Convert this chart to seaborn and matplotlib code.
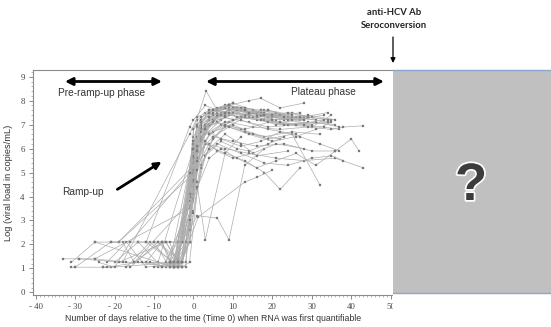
import matplotlib
matplotlib.use("Agg")
import matplotlib.pyplot as plt
import matplotlib.patheffects as pe
from matplotlib.patches import Rectangle, FancyArrowPatch
from matplotlib.lines import Line2D
from matplotlib.ticker import MultipleLocator
import seaborn as sns
import pandas as pd

# ---------------- data ----------------
days = [
    [-33, -29, -25, -1, 0, 3, 7, 11, 16, 22, 28],
    [-31, -30, -23, -21, -4, 0, 4, 8, 13, 18, 24, 31],
    [-31, -25, -19, -1, 1, 5, 9, 14, 20],
    [-25, -17, -9, 0, 2, 6, 10, 15, 21, 27, 33],
    [-23, -22, -14, -4, -1, 1, 5, 9, 15, 21, 29, 36],
    [-21, -19, -0.5, 2, 6, 11, 17, 24],
    [-22, -17, -12, -3, 0, 3, 8, 14, 19, 26, 33, 37],
    [-20, -14, -8, -4, 0, 4, 9, 16, 23, 30, 35],
    [-18, -15, -1, 1, 4, 8, 12, 17, 22],
    [-17, -11, -4, -1, 2, 6, 12, 18, 25, 32],
    [-9, -2, 0, 3, 8, 14, 21, 28, 36, 43],
    [-7, -1, 1, 5, 10, 16, 23, 30, 36, 40, 42],
    [-10, -3, 0, 4, 9, 15, 22, 29, 35, 38, 43],
    [-6, -1, 1, 6, 12, 18, 24, 30, 35, 38],
    [-5, -1, 2, 7, 13, 19, 25, 32],
    [-4, 0, 3, 8, 13, 18, 22, 27],
    [-4, 0, 3, 8, 12],
    [-3, 1, 6, 9, 13, 18],
    [-3, 0, 3.2, 6, 10],
    [-15, -8, -3, 0, 2, 5, 9, 13, 17, 21, 26],
    [-14, -10, -6, -4, 0, 3, 7, 10, 14, 19, 25, 30, 35],
    [-12, -8, -5, -1, 1, 4, 8, 12, 17, 23, 28],
    [-11, -7, -4, -4, 0, 2, 6, 9, 14],
    [-8, -6, -3, -1, 1, 4, 8, 13, 18, 24, 31, 37],
    [-6, -4, -2, 0, 2, 5, 9, 14, 20, 27],
    [-5, -3, -1, 0, 3, 7, 11, 16, 21, 27, 34],
    [-4, -3, -1, 1, 4, 7, 11, 15, 20],
    [-5, -4, 0, 2, 5, 8, 12, 17, 24, 30],
    [-29, -18, -1, 1, 4, 9, 14, 19, 25],
    [-30, -21, -12, -1, 0, 3, 6, 10, 15],
    [-25, -5, 0, 2, 6, 9, 13, 18, 24, 29, 34],
    [-19, -7, -4, 0, 3, 6, 10, 16, 22, 28],
    [-16, -9, -3, -1, 0, 4, 8, 12, 19, 26],
    [-13, -6, -2, 0, 1, 5, 10, 15, 22],
    [-10, -5, -1, 0, 2, 5, 8, 12, 16, 20, 25, 29],
    [-9, -3, -1, 1, 3, 7, 11, 14, 19, 23],
    [-8, -4, -1, 0, 2, 5, 9, 13, 20, 27, 34],
    [-7, -3, 0, 1, 4, 8, 13, 19, 26, 33],
    [-5, -2, 0, 1, 3, 6, 10, 14, 18],
    [-4, -1, 0, 2, 5, 9, 14, 20, 26, 31, 35],
    [-6, -3, 1, 3, 6, 10, 15, 21, 28],
    [-5, -1, 1, 4, 8, 12, 16, 24],
    [-3, 0, 2, 5, 8, 11, 17, 22, 28, 34],
    [-6, -1, 0, 3, 7, 12, 17, 22, 27, 32, 37],
    [-12, -5, 0, 2, 5, 9, 14, 19, 25],
    [-24, -20, -16, -1, 1, 4, 8, 13, 20, 28],
    [-5, 1, 4, 7, 11, 16, 21, 26, 31, 36],
    [-4, 1, 3, 8, 13, 18, 23, 29, 36],
    [-6, 0, 4, 9, 14, 17, 22, 28],
    [-3, 1.2, 13, 16, 20],
]
log_loads = [
    [1.4, 1.4, 1.4, 3.5, 6.8, 7.5, 7.7, 7.6, 7.5, 7.4, 7.3],
    [1.05, 1.05, 1.05, 1.05, 1.25, 6.5, 7.6, 7.8, 7.7, 7.5, 7.3, 7.2],
    [1.25, 2.1, 2.1, 4.8, 7.2, 7.6, 7.5, 7.3, 7.4],
    [1.4, 1.25, 1.25, 6.0, 7.3, 7.7, 7.9, 7.6, 7.3, 7.2, 7.4],
    [1.05, 1.05, 1.25, 1.25, 4.2, 6.9, 7.4, 7.6, 7.3, 7.0, 7.1, 7.0],
    [2.1, 2.1, 5.2, 7.2, 7.6, 7.7, 7.4, 7.3],
    [1.25, 2.1, 1.05, 1.25, 5.5, 7.0, 7.3, 7.1, 6.9, 7.0, 6.9, 6.8],
    [1.25, 2.1, 1.05, 2.1, 6.2, 7.3, 7.4, 7.2, 7.0, 6.9, 7.4],
    [2.1, 1.25, 3.8, 6.5, 7.2, 7.5, 7.3, 7.6, 7.4],
    [1.05, 2.1, 1.05, 4.5, 6.8, 7.1, 6.8, 6.5, 6.7, 6.6],
    [1.05, 1.25, 4.5, 6.2, 6.0, 5.8, 5.6, 5.5, 5.6, 5.2],
    [1.25, 3.6, 5.8, 6.5, 6.3, 6.1, 6.2, 5.9, 5.9, 6.4, 5.9],
    [2.1, 2.1, 6.0, 7.0, 7.1, 6.9, 6.8, 6.9, 6.8, 6.9, 6.95],
    [1.05, 2.8, 5.5, 6.2, 5.8, 5.4, 5.3, 5.6, 5.7, 5.5],
    [1.05, 4.0, 6.5, 7.0, 6.7, 6.4, 6.6, 4.5],
    [1.25, 5.0, 6.2, 5.8, 5.5, 5.0, 4.3, 5.2],
    [1.05, 5.5, 2.2, 5.8, 6.5],
    [2.1, 3.2, 3.1, 2.2, 5.3, 6.0],
    [1.25, 6.8, 8.4, 7.6, 7.9],
    [1.25, 2.1, 2.1, 5.8, 7.1, 7.5, 7.8, 7.7, 7.6, 7.5, 7.3],
    [2.1, 2.1, 1.05, 1.25, 4.9, 6.6, 7.2, 7.5, 7.4, 7.3, 7.5, 7.3, 7.2],
    [1.25, 2.1, 1.05, 3.2, 6.1, 7.0, 7.4, 7.7, 7.5, 7.2, 7.3],
    [1.25, 1.05, 2.1, 1.4, 5.1, 6.8, 7.3, 7.6, 7.4],
    [2.1, 1.25, 1.05, 3.0, 5.6, 6.6, 7.1, 7.3, 7.2, 7.0, 7.1, 6.9],
    [2.1, 1.05, 2.1, 3.8, 6.3, 7.2, 7.6, 7.5, 7.3, 7.5],
    [1.05, 1.25, 2.1, 4.4, 6.9, 7.5, 7.7, 7.4, 7.2, 7.3, 7.1],
    [1.05, 1.25, 2.9, 5.9, 7.0, 7.4, 7.6, 7.5, 7.2],
    [1.05, 2.1, 4.1, 6.4, 7.1, 7.7, 7.6, 7.4, 7.2, 7.0],
    [1.4, 1.25, 6.6, 7.3, 7.6, 7.8, 7.5, 7.6, 7.4],
    [1.05, 2.1, 2.1, 6.9, 7.2, 7.8, 7.6, 7.7, 7.5],
    [2.1, 1.05, 5.4, 6.9, 7.5, 7.8, 7.6, 7.4, 7.5, 7.3, 7.2],
    [1.25, 2.1, 1.25, 6.2, 7.0, 7.4, 7.7, 7.3, 7.1, 7.2],
    [1.05, 2.1, 1.25, 2.6, 5.0, 6.2, 6.9, 7.2, 6.8, 6.6],
    [1.25, 1.05, 2.1, 4.6, 6.0, 6.7, 7.0, 6.6, 6.4],
    [1.05, 1.25, 2.1, 3.4, 5.3, 6.4, 7.0, 7.3, 7.5, 7.4, 7.2, 7.3],
    [2.1, 1.05, 1.25, 4.3, 5.7, 6.3, 6.0, 5.9, 6.2, 6.5],
    [1.05, 1.25, 2.1, 5.6, 6.7, 7.2, 7.5, 7.4, 7.2, 7.3, 7.5],
    [2.1, 1.05, 3.9, 5.5, 6.6, 7.0, 6.8, 7.1, 7.0, 7.2],
    [1.25, 1.05, 4.7, 6.1, 6.8, 7.4, 7.2, 7.5, 7.6],
    [1.05, 2.1, 3.3, 5.2, 6.5, 6.9, 6.6, 6.3, 6.5, 6.8, 7.1],
    [1.25, 2.1, 4.6, 6.3, 5.9, 5.6, 5.8, 6.2, 6.0],
    [1.05, 3.0, 5.1, 6.0, 6.6, 6.2, 5.7, 5.9],
    [2.1, 6.3, 7.0, 7.4, 7.5, 7.3, 7.2, 7.1, 7.0, 7.1],
    [1.25, 4.1, 6.0, 6.8, 6.4, 6.1, 6.3, 6.7, 6.5, 6.2, 5.9],
    [2.1, 1.25, 5.7, 7.1, 7.6, 7.7, 7.5, 7.6, 7.3],
    [1.25, 1.05, 2.1, 5.0, 7.0, 7.5, 7.7, 7.6, 7.4, 7.2],
    [1.05, 4.4, 5.6, 6.0, 5.6, 5.2, 5.5, 5.8, 5.3, 5.9],
    [1.25, 5.9, 6.8, 7.3, 7.6, 7.4, 7.3, 7.4, 7.2],
    [1.25, 6.0, 7.3, 7.8, 8.0, 8.1, 7.7, 7.9],
    [1.25, 3.15, 4.6, 4.8, 5.1],
]

x_ticks = [-40, -30, -20, -10, 0, 10, 20, 30, 40, 50]
x_tick_labels = ["- 40", "- 30", "- 20", "- 10", "0", "10", "20", "30", "40", "50"]
y_ticks = [0, 1, 2, 3, 4, 5, 6, 7, 8, 9]

x_label = "Number of days relative to the time (Time 0) when RNA was first quantifiable"
y_label = "Log (viral load in copies/mL)"
seroconv_label = "anti-HCV Ab\nSeroconversion"

rows = []
for sid, (dd, vv) in enumerate(zip(days, log_loads)):
    for d, v in zip(dd, vv):
        rows.append({"subject": sid, "day": d, "log_vl": v})
df = pd.DataFrame(rows)

# ---------------- figure ----------------
sns.set_style("white")
plt.rcParams["font.family"] = ["Liberation Sans", "DejaVu Sans"]

W, H = 551, 327
fig = plt.figure(figsize=(W / 100, H / 100), dpi=100)
fig.patch.set_facecolor("white")

def fx(px):
    return px / W

def fy(py):
    return 1 - py / H

ax_l, ax_r, ax_t, ax_b = 33, 393, 70, 295
ax = fig.add_axes([fx(ax_l), fy(ax_b), fx(ax_r) - fx(ax_l), fy(ax_t) - fy(ax_b)])

sns.lineplot(
    data=df, x="day", y="log_vl", units="subject", estimator=None,
    color="#adadad", lw=0.5, marker="s", markersize=1.5,
    markerfacecolor="#7a7a7a", markeredgecolor="#7a7a7a", markeredgewidth=0.2,
    legend=False, ax=ax,
)

ax.set_xlim(-40.7, 50.6)
ax.set_ylim(-0.11, 9.28)
ax.set_xticks(x_ticks)
ax.set_xticklabels(x_tick_labels)
ax.set_yticks(y_ticks)
ax.xaxis.set_minor_locator(MultipleLocator(1))
ax.yaxis.set_minor_locator(MultipleLocator(0.2))
ax.tick_params(axis="both", which="major", direction="out", length=3, width=0.6,
               color="#777777", labelsize=6.3, labelcolor="#444444", pad=3)
ax.tick_params(axis="both", which="minor", direction="out", length=1.2, width=0.5,
               color="#999999")
ax.tick_params(axis="x", which="both", bottom=True)
ax.tick_params(axis="y", which="both", left=True)
for lab in ax.get_xticklabels() + ax.get_yticklabels():
    lab.set_fontfamily(["Liberation Serif", "DejaVu Serif"])
ax.set_xlabel(x_label, fontsize=6.3, color="#333333", labelpad=2)
ax.set_ylabel(y_label, fontsize=6.7, color="#333333", labelpad=5)
for side in ["left", "top", "bottom"]:
    ax.spines[side].set_color("#8a8a8a")
    ax.spines[side].set_linewidth(0.8)
ax.spines["right"].set_visible(False)

# annotations inside plot
ax.annotate("", xy=(-8.0, 8.8), xytext=(-32.6, 8.8),
            arrowprops=dict(arrowstyle="<|-|>", lw=2.0, color="black",
                            mutation_scale=11, shrinkA=0, shrinkB=0))
ax.text(-23.2, 8.3, "Pre-ramp-up phase", fontsize=7.3, color="#333333",
        ha="center", va="center")
ax.annotate("", xy=(48.3, 8.8), xytext=(3.2, 8.8),
            arrowprops=dict(arrowstyle="<|-|>", lw=2.0, color="black",
                            mutation_scale=11, shrinkA=0, shrinkB=0))
ax.text(33.0, 8.35, "Plateau phase", fontsize=7.3, color="#333333",
        ha="center", va="center")
ax.annotate("", xy=(-8.1, 5.45), xytext=(-19.3, 4.3),
            arrowprops=dict(arrowstyle="-|>", lw=2.0, color="black",
                            mutation_scale=10, shrinkA=0, shrinkB=0))
ax.text(-28.1, 4.2, "Ramp-up", fontsize=7.3, color="#333333",
        ha="center", va="center")

# white patch covering the cut part of the last tick label
fig.add_artist(Rectangle((fx(393), 0), 1 - fx(393), fy(295), transform=fig.transFigure,
                         facecolor="white", edgecolor="none", zorder=5))

# grey box with question mark
fig.add_artist(Rectangle((fx(393), fy(293)), 1 - fx(393), fy(70) - fy(293),
                         transform=fig.transFigure, facecolor="#c0c0c0",
                         edgecolor="none", zorder=6))
for yy in (70, 293):
    fig.add_artist(Line2D([fx(393), 1], [fy(yy), fy(yy)], transform=fig.transFigure,
                          color="#8aa6d0", lw=1.0, zorder=7))
fig.text(fx(471), fy(186), "?", fontsize=38, fontweight="bold", color="#3c3c3c",
         ha="center", va="center", zorder=8,
         path_effects=[pe.withStroke(linewidth=2.5, foreground="white")])

# seroconversion label and arrow
fig.text(fx(394), fy(19), seroconv_label, fontsize=6.8, fontweight="bold",
         color="#222222", ha="center", va="center", linespacing=1.5,
         family=["Lato", "DejaVu Sans"])
fig.add_artist(FancyArrowPatch((fx(393), fy(37)), (fx(393), fy(63)),
                               transform=fig.transFigure, arrowstyle="-|>",
                               mutation_scale=7, lw=0.9, color="black",
                               shrinkA=0, shrinkB=0, zorder=9))

fig.savefig("out.png", dpi=100)
